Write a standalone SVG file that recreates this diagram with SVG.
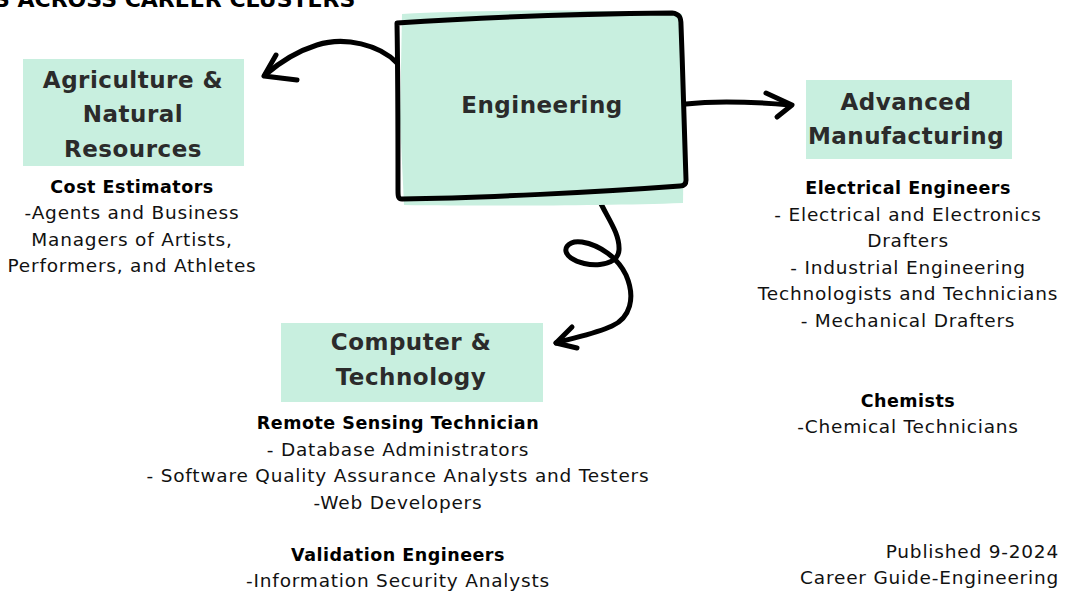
<svg xmlns="http://www.w3.org/2000/svg" width="1076" height="592" viewBox="0 0 1076 592">
<style>
.box{fill:#c8efdf}
.h{font-family:"DejaVu Sans","Open Sans",sans-serif;font-weight:700;font-size:23px;letter-spacing:0.5px;fill:#2b2b2b;text-anchor:middle}
.b{font-family:"DejaVu Sans","Open Sans",sans-serif;font-weight:700;font-size:17.5px;letter-spacing:0.5px;fill:#000;text-anchor:middle}
.t{font-family:"DejaVu Sans","Open Sans",sans-serif;font-size:18.5px;letter-spacing:0.8px;fill:#111;text-anchor:middle}
.e{text-anchor:end}
.c{fill:none;stroke:#000;stroke-width:5;stroke-linecap:round;stroke-linejoin:round}
</style>
<rect width="1076" height="592" fill="#fff"/>
<text x="-6" y="7" font-family="'DejaVu Sans','Open Sans',sans-serif" font-weight="700" font-size="22" fill="#000">S ACROSS CAREER CLUSTERS</text>

<g id="connectors">
<path class="c" d="M397,63 C380,45 345,36 317,45 C298,51 280,62 265,75"/>
<path class="c" d="M276,55 L264,76 L297,80"/>
<path class="c" d="M686,104 C720,100 755,102 790,105"/>
<path class="c" d="M766,93 L792,105 L777,117"/>
<path class="c" d="M598,197 C605,215 620,232 619,250 C618,268 585,268 571,258 C560,250 568,240 582,242 C600,245 618,258 626,275 C636,298 630,318 612,326 C595,334 572,338 556,343"/>
<path class="c" d="M572,327 L556,343 L577,348"/>
</g>

<g id="engineering">
<path class="box" d="M402,14 C480,10 600,9 682,14 L684,120 L683,203 C600,206 480,206 404,205 L400,120 Z"/>
<path class="c" d="M397,23 C470,18 560,14 672,13 C680,14 681,18 681,25 C683,80 685,140 686,180 C686,184 684,186 680,186 C600,192 480,198 402,199 C398,199 398,196 398,190 C398,140 398,80 397,23 Z"/>
<text class="h" x="542" y="113" font-size="26">Engineering</text>
</g>

<g id="agriculture">
<rect class="box" x="23" y="59" width="221" height="107"/>
<text class="h" x="133" y="88">Agriculture &amp;</text>
<text class="h" x="133" y="122">Natural</text>
<text class="h" x="133" y="157">Resources</text>
<text class="b" x="132" y="193">Cost Estimators</text>
<text class="t" x="132" y="219">-Agents and Business</text>
<text class="t" x="132" y="246">Managers of Artists,</text>
<text class="t" x="132" y="272">Performers, and Athletes</text>
</g>

<g id="manufacturing">
<rect class="box" x="806" y="80" width="206" height="79"/>
<text class="h" x="906" y="110">Advanced</text>
<text class="h" x="906" y="144">Manufacturing</text>
<text class="b" x="908" y="194">Electrical Engineers</text>
<text class="t" x="908" y="221">- Electrical and Electronics</text>
<text class="t" x="908" y="247">Drafters</text>
<text class="t" x="908" y="274">- Industrial Engineering</text>
<text class="t" x="908" y="300">Technologists and Technicians</text>
<text class="t" x="908" y="327">- Mechanical Drafters</text>
<text class="b" x="908" y="407">Chemists</text>
<text class="t" x="908" y="433">-Chemical Technicians</text>
</g>

<g id="computer">
<rect class="box" x="281" y="323" width="262" height="79"/>
<text class="h" x="411" y="350">Computer &amp;</text>
<text class="h" x="411" y="385">Technology</text>
<text class="b" x="398" y="429">Remote Sensing Technician</text>
<text class="t" x="398" y="456">- Database Administrators</text>
<text class="t" x="398" y="482">- Software Quality Assurance Analysts and Testers</text>
<text class="t" x="398" y="509">-Web Developers</text>
<text class="b" x="398" y="561">Validation Engineers</text>
<text class="t" x="398" y="587">-Information Security Analysts</text>
</g>

<g id="published">
<text class="t e" x="1059" y="558">Published 9-2024</text>
<text class="t e" x="1059" y="584">Career Guide-Engineering</text>
</g>
</svg>
